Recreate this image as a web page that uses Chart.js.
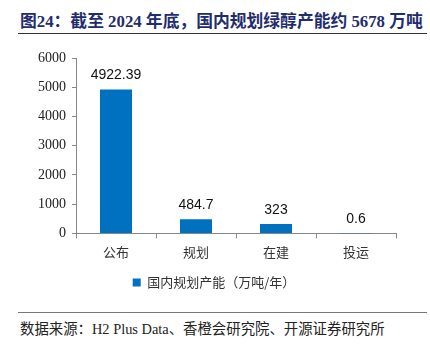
<!DOCTYPE html>
<html>
<head>
<meta charset="utf-8">
<script src="https://cdn.jsdelivr.net/npm/chart.js@4"></script>
<style>
    body { margin: 0; width: 430px; height: 348px; background: #fff; position: relative; overflow: hidden; }
    #title { position: absolute; left: 20px; top: 8px; font: bold 16.8px "Liberation Serif", "Noto Sans CJK SC", serif; color: #1f2d6e; white-space: nowrap; }
    #topLine { position: absolute; left: 18px; top: 33px; width: 409px; height: 0; border-top: 1.5px solid #333; }
    #wrap { position: absolute; left: 0; top: 38px; width: 430px; height: 265px; }
    #bottomLine { position: absolute; left: 18px; top: 312px; width: 409px; height: 0; border-top: 1.5px solid #777; }
    #source { position: absolute; left: 20px; top: 317px; font: 14.4px "Liberation Serif", "Noto Sans CJK SC", serif; color: #222; white-space: nowrap; }
</style>
</head>
<body>
<div id="title">图24：截至 2024 年底，国内规划绿醇产能约 5678 万吨</div>
<div id="topLine"></div>
<div id="wrap"><canvas id="chart"></canvas></div>
<div id="bottomLine"></div>
<div id="source">数据来源：H2 Plus Data、香橙会研究院、开源证券研究所</div>
<script>
const categories = ['公布', '规划', '在建', '投运'];
const capacity = [4922.39, 484.7, 323, 0.6];
const capacityLabels = ['4922.39', '484.7', '323', '0.6'];
const yTicks = [0, 1000, 2000, 3000, 4000, 5000, 6000];

// value labels above bars
const barLabels = {
    id: 'barLabels',
    afterDatasetsDraw(chart) {
        const ctx = chart.ctx;
        const meta = chart.getDatasetMeta(0);
        ctx.save();
        ctx.font = '14px "Liberation Sans", Arial, sans-serif';
        ctx.fillStyle = '#111';
        ctx.textAlign = 'center';
        ctx.textBaseline = 'bottom';
        meta.data.forEach((bar, i) => {
            ctx.fillText(capacityLabels[i], bar.x, bar.y - 7);
        });
        ctx.restore();
    }
};

new Chart(document.getElementById('chart'), {
    type: 'bar',
    data: {
        labels: categories,
        datasets: [{
            label: '国内规划产能（万吨/年）',
            data: capacity,
            backgroundColor: '#0070c0',
            borderWidth: 0,
            barPercentage: 0.4,
            categoryPercentage: 1.0
        }]
    },
    options: {
        responsive: true,
        maintainAspectRatio: false,
        animation: false,
        layout: { padding: { left: 32, right: 34, top: 20, bottom: 4 } },
        plugins: {
            tooltip: { enabled: false },
            legend: {
                position: 'bottom',
                labels: {
                    boxWidth: 8,
                    boxHeight: 8,
                    color: '#333',
                    padding: 10,
                    font: { size: 13, family: '"Noto Sans CJK SC", sans-serif' }
                }
            }
        },
        scales: {
            x: {
                grid: { display: true, drawOnChartArea: false, drawTicks: true, tickLength: 5, color: '#888', offset: true },
                border: { display: true, color: '#888', width: 1 },
                ticks: { color: '#333', padding: 6, font: { size: 13, family: '"Noto Sans CJK SC", sans-serif' } }
            },
            y: {
                min: 0,
                max: 6000,
                afterBuildTicks: axis => { axis.ticks = yTicks.map(v => ({ value: v })); },
                grid: { display: true, drawOnChartArea: false, drawTicks: true, tickLength: 4, color: '#888' },
                border: { display: true, color: '#888', width: 1 },
                ticks: { color: '#222', padding: 6, font: { size: 14, family: '"Liberation Serif", serif' }, callback: v => String(v) }
            }
        }
    },
    plugins: [barLabels]
});
</script>
</body>
</html>
